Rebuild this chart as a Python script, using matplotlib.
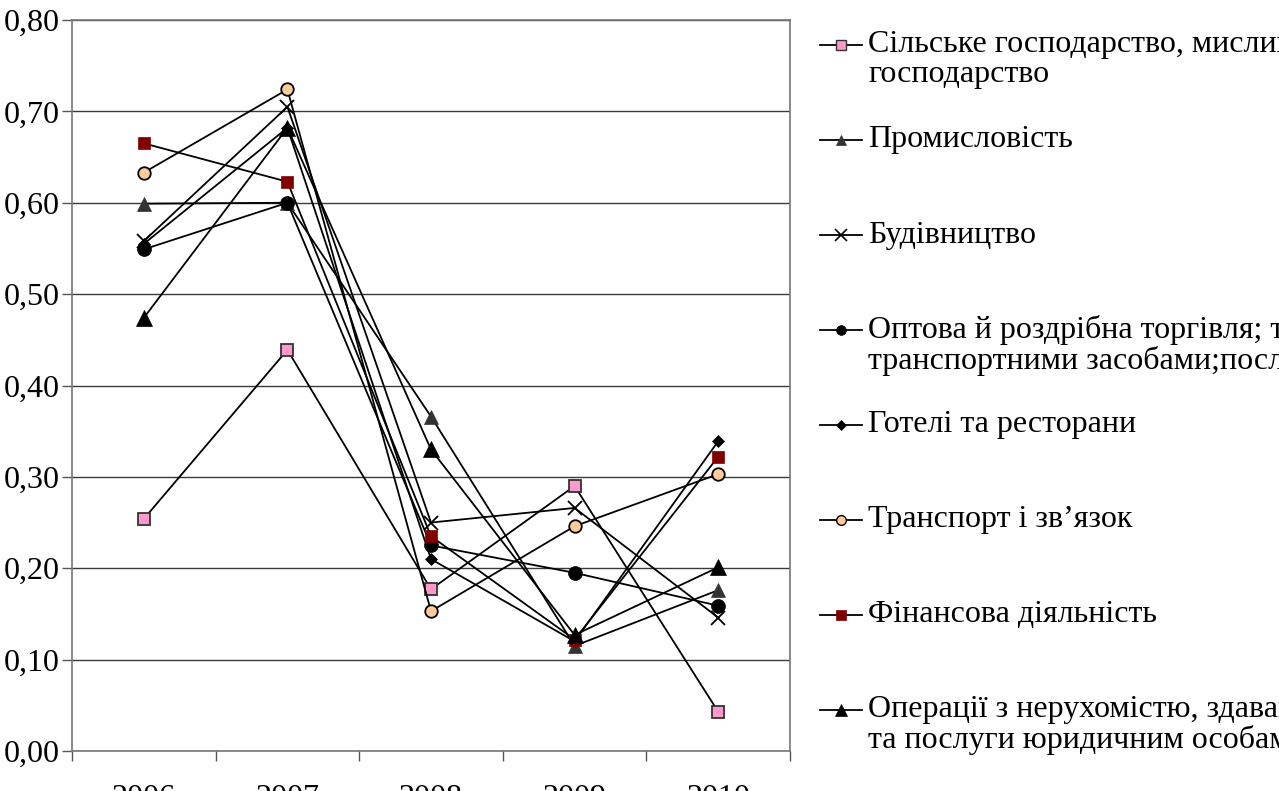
import matplotlib
matplotlib.use("Agg")
import matplotlib.pyplot as plt
from matplotlib.ticker import FuncFormatter, FixedLocator
from matplotlib.lines import Line2D

years = ["2006", "2007", "2008", "2009", "2010"]

agri = [0.254, 0.439, 0.177, 0.290, 0.043]
industry = [0.599, 0.600, 0.366, 0.115, 0.176]
construction = [0.558, 0.705, 0.250, 0.266, 0.146]
trade = [0.549, 0.600, 0.225, 0.195, 0.159]
hotels = [0.555, 0.682, 0.210, 0.120, 0.339]
transport = [0.633, 0.724, 0.153, 0.246, 0.303]
finance = [0.665, 0.623, 0.235, 0.122, 0.322]
realty = [0.474, 0.682, 0.330, 0.127, 0.201]

labels = [
    "Сільське господарство, мисливство, лісове\nгосподарство",
    "Промисловість",
    "Будівництво",
    "Оптова й роздрібна торгівля; торгівля\nтранспортними засобами;послуги з ремонту",
    "Готелі та ресторани",
    "Транспорт і зв’язок",
    "Фінансова діяльність",
    "Операції з нерухомістю, здавання під найм\nта послуги юридичним особам",
]

series = [agri, industry, construction, trade, hotels, transport, finance, realty]

styles = [
    dict(marker="s", ms=9, mfc="#FF99CC", mec="#333333", mew=1.3),
    dict(marker="^", ms=10, mfc="#333333", mec="#333333", mew=0.5),
    dict(marker="x", ms=10, mfc="black", mec="black", mew=1.3),
    dict(marker="o", ms=10, mfc="black", mec="black", mew=0.5),
    dict(marker="D", ms=6, mfc="black", mec="black", mew=0.5),
    dict(marker="o", ms=9, mfc="#FFCC99", mec="black", mew=1.3),
    dict(marker="s", ms=8, mfc="#800000", mec="#800000", mew=0.5),
    dict(marker="^", ms=11, mfc="black", mec="black", mew=0.5),
]
leg_styles = [
    dict(marker="s", ms=7, mfc="#FF99CC", mec="#333333", mew=1.0),
    dict(marker="^", ms=7, mfc="#333333", mec="#333333", mew=0.5),
    dict(marker="x", ms=8, mfc="black", mec="black", mew=1.2),
    dict(marker="o", ms=7, mfc="black", mec="black", mew=0.5),
    dict(marker="D", ms=5, mfc="black", mec="black", mew=0.5),
    dict(marker="o", ms=7, mfc="#FFCC99", mec="black", mew=1.0),
    dict(marker="s", ms=7, mfc="#800000", mec="#800000", mew=0.5),
    dict(marker="^", ms=9, mfc="black", mec="black", mew=0.5),
]

W, H = 1279, 791
fig = plt.figure(figsize=(W / 100, H / 100), dpi=100)
fig.patch.set_facecolor("white")
ax = fig.add_axes([72 / W, (H - 751) / H, (790 - 72) / W, (751 - 20) / H])

font = "Liberation Serif"
fs = 23

x = list(range(len(years)))
for vals, st in zip(series, styles):
    ax.plot(x, vals, color="black", lw=1.3, **st, clip_on=False)

ax.set_xlim(-0.5, len(years) - 0.5)
ax.set_ylim(0, 0.8)
ax.set_yticks([i / 10 for i in range(9)])
ax.yaxis.set_major_formatter(FuncFormatter(lambda v, p: f"{v:.2f}".replace(".", ",")))
ax.grid(axis="y", color="#3a3a3a", lw=1.0)
ax.set_axisbelow(True)

ax.xaxis.set_major_locator(FixedLocator([i - 0.5 for i in range(len(years) + 1)]))
ax.xaxis.set_major_formatter(FuncFormatter(lambda v, p: ""))
ax.xaxis.set_minor_locator(FixedLocator(x))
ax.set_xticklabels(years, minor=True)
ax.tick_params(axis="x", which="major", length=7, width=1.0, color="#555555", direction="out")
ax.tick_params(axis="x", which="minor", length=0, pad=24, labelsize=fs)
ax.tick_params(axis="y", length=7, width=1.0, color="#555555", direction="out", pad=2, labelsize=fs)
for lab in ax.get_xticklabels(minor=True) + ax.get_yticklabels():
    lab.set_fontfamily(font)
for sp in ax.spines.values():
    sp.set_color("#777777")
    sp.set_linewidth(1.2)

# legend drawn in pixel coordinates of the figure
for i, (lab, st) in enumerate(zip(labels, leg_styles)):
    yp = 45 + 95 * i
    yf = 1 - yp / H
    fig.add_artist(Line2D([820 / W, 862 / W], [yf, yf], color="black", lw=1.3,
                          transform=fig.transFigure))
    fig.add_artist(Line2D([841 / W], [yf], color="black", lw=0, transform=fig.transFigure, **st))
    if "\n" in lab:
        fig.text(868 / W, yf + 15 / H, lab, fontsize=fs, family=font, va="top",
                 ha="left", linespacing=1.05)
    else:
        fig.text(868 / W, yf, lab, fontsize=fs, family=font, va="center", ha="left")

fig.savefig("out.png", dpi=100)
